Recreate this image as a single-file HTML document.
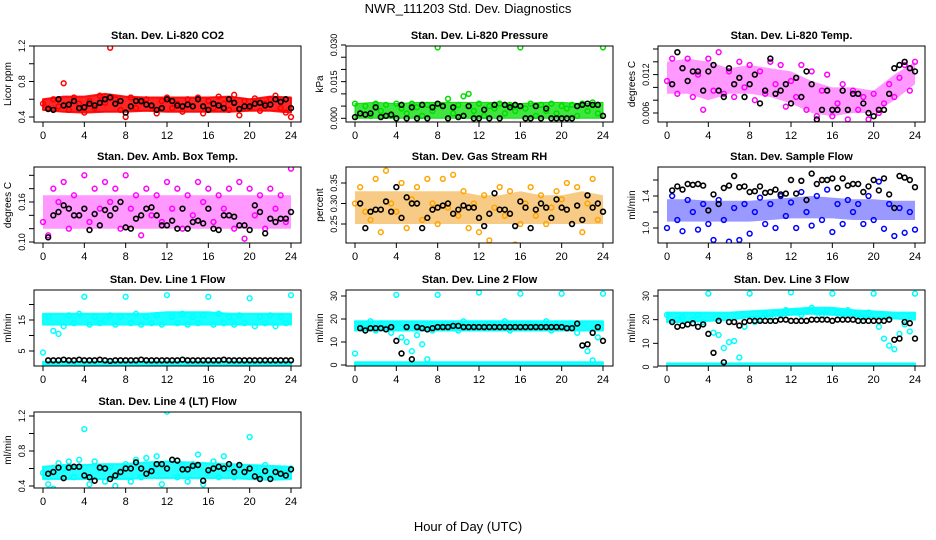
<!DOCTYPE html>
<html><head><meta charset="utf-8"><style>
body{margin:0;background:#fff}
svg{display:block;font-family:"Liberation Sans",sans-serif}
</style></head><body>
<svg id="chart" width="936" height="540" viewBox="0 0 936 540">
<rect width="936" height="540" fill="#fff"/>
<text x="468" y="13" text-anchor="middle" font-size="13">NWR_111203  Std. Dev. Diagnostics</text>
<text x="468" y="531" text-anchor="middle" font-size="13">Hour of Day (UTC)</text>
</svg>
<script>
const bandHours=[0,2,4,6,8,10,12,14,16,18,20,22,24];
const xTicks=[0,4,8,12,16,20,24];
// CO2
const co2Lo=[0.48,0.46,0.45,0.46,0.46,0.47,0.46,0.46,0.46,0.46,0.47,0.47,0.45];
const co2Hi=[0.60,0.63,0.63,0.66,0.63,0.62,0.62,0.62,0.62,0.63,0.60,0.63,0.62];
const co2Pts=[0.55,0.5,0.6,0.52,0.78,0.48,0.62,0.55,0.45,0.58,0.5,0.64,0.56,1.18,0.6,0.48,0.40,0.62,0.5,0.57,0.6,0.52,0.44,0.58,0.62,0.5,0.55,0.46,0.6,0.52,0.62,0.44,0.58,0.5,0.63,0.55,0.48,0.65,0.42,0.58,0.5,0.61,0.47,0.55,0.6,0.64,0.5,0.45,0.40];
const co2Black=[null,0.49,0.48,0.6,0.53,0.54,0.58,0.5,0.51,0.55,0.53,0.56,0.6,0.62,0.55,0.58,0.45,0.52,0.58,0.58,0.54,0.53,0.48,0.5,0.6,0.58,0.53,0.52,0.54,0.52,0.6,0.52,0.48,0.55,0.53,0.5,0.6,0.56,0.49,0.52,0.52,0.55,0.56,0.53,0.54,0.6,0.57,0.6,0.5];
// Pressure
const prLo=[0,0,0,0,0,0,0,0,0,0,0,0,0];
const prHi=[0.006,0.0065,0.006,0.0065,0.0065,0.0065,0.0065,0.0065,0.006,0.0065,0.0065,0.006,0.0065];
const prPts=[0.006,0.002,0.005,0.001,0.006,0.003,0.0055,0.001,0.006,0.004,0.002,0.006,0.0045,0.001,0.0055,0.003,0.029,0.005,0.008,0.002,0.0055,0.009,0.01,0.003,0.006,0.001,0.005,0.004,0.006,0.002,0.0055,0.003,0.029,0.004,0.006,0.001,0.0055,0.003,0.006,0.002,0.005,0.004,0.0055,0.001,0.006,0.003,0.0065,0.002,0.029];
const prBlack=[0.0005,0.002,0.0015,0.002,0.0045,0.0005,0.001,0.0015,0.0,0.0055,0.0,0.0045,0.0,0.0055,0.0,0.0045,0.006,0.005,0.0,0.0045,0.0005,0.001,0.005,0.0,0.0,0.0035,0.0,0.0055,0.0,0.0055,0.0045,0.0055,0.005,0.0,0.0,0.005,0.0,0.004,0.0,0.0,0.0,0.0,0.0,0.005,0.0055,0.006,0.0055,0.0055,0.001];
// Li-820 temp
const tLo=[0.009,0.009,0.008,0.009,0.009,0.0085,0.0075,0.006,0.0055,0.006,0.006,0.008,0.0105];
const tHi=[0.014,0.0145,0.014,0.013,0.0135,0.013,0.0125,0.011,0.010,0.010,0.0095,0.012,0.014];
const tPts=[0.011,0.0145,0.009,0.013,0.0145,0.0085,0.012,0.0065,0.0145,0.0095,0.0155,0.009,0.0125,0.0085,0.014,0.01,0.0135,0.008,0.0125,0.009,0.014,0.0105,0.0135,0.007,0.011,0.0085,0.0135,0.0065,0.0125,0.0055,0.0095,0.012,0.0055,0.0075,0.0105,0.005,0.0095,0.0065,0.0085,0.005,0.009,0.006,0.0075,0.0105,0.0085,0.0115,0.0135,0.0095,0.014];
const tBlack=[null,0.0105,0.0155,0.013,0.011,0.0125,0.0125,0.0095,0.0125,0.0135,0.0095,0.0085,0.013,0.0105,0.0115,0.0085,0.0105,0.012,0.0075,0.0095,0.0145,0.009,0.0095,0.0105,0.0075,0.0115,0.0085,0.0125,0.0105,0.005,0.0065,0.0095,0.0065,0.0065,0.0095,0.0065,0.009,0.009,0.0075,0.006,0.0055,0.0065,0.0065,0.009,0.013,0.0135,0.014,0.013,0.0125];
// Amb box temp
const aLo=[0.12,0.12,0.12,0.12,0.12,0.12,0.12,0.12,0.12,0.12,0.12,0.12,0.12];
const aHi=[0.17,0.17,0.17,0.17,0.17,0.17,0.17,0.17,0.17,0.17,0.17,0.17,0.17];
const aPts=[0.13,0.11,0.18,0.16,0.19,0.12,0.17,0.14,0.2,0.13,0.18,0.15,0.19,0.16,0.18,0.12,0.2,0.15,0.17,0.11,0.18,0.14,0.17,0.13,0.19,0.15,0.18,0.12,0.17,0.14,0.19,0.16,0.18,0.13,0.17,0.15,0.18,0.12,0.19,0.105,0.18,0.14,0.17,0.12,0.18,0.15,0.17,0.13,0.21];
const aBlack=[null,0.107,0.14,0.145,0.155,0.15,0.14,0.14,0.15,0.118,0.142,0.125,0.148,0.14,0.15,0.16,0.122,0.12,0.135,0.14,0.15,0.152,0.14,0.125,0.125,0.132,0.12,0.15,0.12,0.13,0.132,0.128,0.15,0.12,0.118,0.14,0.14,0.138,0.125,0.125,0.118,0.155,0.145,0.113,0.135,0.13,0.135,0.135,0.145];
// RH
const rhLo=[0.25,0.25,0.25,0.25,0.25,0.25,0.25,0.25,0.25,0.25,0.25,0.25,0.25];
const rhHi=[0.33,0.33,0.33,0.33,0.33,0.33,0.32,0.32,0.33,0.32,0.32,0.33,0.32];
const rhPts=[0.3,0.34,0.28,0.26,0.36,0.23,0.38,0.3,0.28,0.35,0.24,0.31,0.34,0.26,0.36,0.3,0.25,0.36,0.29,0.37,0.27,0.33,0.24,0.3,0.23,0.32,0.21,0.29,0.34,0.27,0.33,0.2,0.25,0.3,0.34,0.27,0.32,0.25,0.29,0.33,0.31,0.35,0.25,0.34,0.23,0.3,0.36,0.26,0.28];
const rhBlack=[null,0.3,0.24,0.28,0.285,0.285,0.305,0.28,0.34,0.265,0.315,0.3,0.3,0.24,0.265,0.285,0.29,0.295,0.3,0.275,0.285,0.295,0.29,0.29,0.265,0.245,0.275,0.325,0.285,0.285,0.275,0.245,0.305,0.29,0.24,0.285,0.3,0.29,0.265,0.31,0.29,0.285,0.25,0.295,0.26,0.32,0.29,0.3,0.28];
// Sample flow
const sfLo=[1.08,1.08,1.08,1.08,1.08,1.1,1.12,1.12,1.12,1.1,1.1,1.1,1.1];
const sfHi=[1.36,1.36,1.34,1.34,1.34,1.36,1.38,1.4,1.38,1.36,1.36,1.34,1.34];
const sfPts=[1.0,1.4,1.1,0.96,1.35,1.2,0.98,1.3,1.05,0.85,1.35,1.1,0.83,1.25,0.85,1.3,0.93,1.2,1.38,1.05,1.3,1.0,1.4,1.15,1.32,1.0,1.45,1.2,1.03,1.4,1.1,1.48,0.95,1.3,1.05,1.35,1.2,1.3,1.05,1.4,1.1,1.58,0.99,1.3,0.9,1.25,0.94,1.2,0.98];
const sfBlack=[null,1.47,1.52,1.48,1.55,1.54,1.55,1.53,1.22,1.42,1.3,1.5,1.53,1.65,1.51,1.52,1.45,1.46,1.52,1.44,1.45,1.48,1.42,1.43,1.6,1.43,1.59,1.35,1.68,1.55,1.6,1.6,1.62,1.5,1.62,1.53,1.55,1.55,1.45,1.52,1.6,1.47,1.62,1.42,1.25,1.65,1.63,1.6,1.51];
// Line 1
const l1Lo=[13.5,13.5,13.5,13.5,13.5,13.5,13.5,13.5,13.5,13.5,13.5,13.5,13.5];
const l1Hi=[17,17,17,17,17,17,17.5,17.5,17.5,17,17,17,17];
const l1LoB=[0.3,0.3,0.3,0.3,0.3,0.3,0.3,0.3,0.3,0.3,0.3,0.3,0.3];
const l1HiB=[1.5,1.5,1.5,1.5,1.5,1.5,1.5,1.5,1.5,1.5,1.5,1.5,1.5];
const l1Pts=[4.5,16,11.5,10.5,13,16.5,14,17,22.5,13.5,16,14,15,16.5,13.5,16,22.5,14,17,13.5,16,14,16.5,13.5,23,16,14,17,13.5,16,14,16.5,22.5,13.5,17,14,16,13.5,16.5,14,22,13,16,14,16.5,13,16,14,23];
const l1Black=[null,2,2,2,2.2,2,2,2.2,2,2,2,2.2,2,1.8,2,2,2,2,2,2.2,2,2,2,2,2,2,2,2.2,2,2,2,2,2,2,2,2.2,2,2,2,2,2,2,2,2,2,2,2,2,2];
// Line 2
const l2Lo=[15,15,15,15,15,15,15,15,15,15,15,15,15];
const l2Hi=[19,19,19,19,19,19,19,19,19,19,19,19,19];
const l2LoB=[0,0,0,0,0,0,0,0,0,0,0,0,0];
const l2HiB=[1.2,1.2,1.2,1.2,1.2,1.2,1.2,1.2,1.2,1.2,1.2,1.2,1.2];
const l2Pts=[5,17,16,19,15,18,16,14,30.5,12,10,6,13,9,2.5,15,30.5,17,16,18,15,19,16,17,31.5,16,18,17,16,19,15,17,31,16,18,17,16,19,15,17,31,16,18,14,8.5,6,2,12,31];
const l2Black=[null,16,15,16,16,16,15.5,16.5,10.5,5,16.5,2.5,16.5,16,15.5,16,16.5,16.5,16.5,17,17,16.5,16.5,16.5,16.5,16.5,16.5,16.5,16.5,16.5,16.5,16.5,16.5,16.5,16.5,16.5,16.5,16.5,16.5,16.5,16.5,16,16,18,8.5,9,14,16.5,10.5];
// Line 3
const l3Lo=[19,19,19.5,20,21,21.5,22,22.5,22,21.5,21,20.5,20];
const l3Hi=[23,23,23,23,23.5,24,24.5,25,25,24,23.5,23,23];
const l3LoB=[0,0,0,0,0,0,0,0,0,0,0,0,0];
const l3HiB=[1.5,1.5,1.5,1.5,1.5,1.5,1.5,1.5,1.5,1.5,1.5,1.5,1.5];
const l3Pts=[22,19,20,21,18,20,22,19,31,14.5,13.5,8,10.5,11,4,17,31,19,20,22,21,23,22,24,31.5,23,22,24,25,23,22,24,31,23,22,24,23,22,21,23,31,17,12,9,7.5,14,18,15,31];
const l3Black=[null,19,17,17.5,18,18.5,17,18,14,6,19.5,2,19,19,17.5,19,19.5,19.5,19.5,19.5,19.5,19.5,20,20,19.5,19.5,19.5,19.5,20,20,20,20,19.5,20,20,20,20,19.5,19.5,19.5,19.5,19.5,19.5,20,11.5,12,19,18.5,12];
// Line 4
const l4Lo=[0.48,0.48,0.48,0.48,0.48,0.49,0.49,0.49,0.49,0.49,0.48,0.47,0.48];
const l4Hi=[0.62,0.64,0.64,0.65,0.65,0.67,0.68,0.67,0.66,0.65,0.64,0.63,0.62];
const l4Pts=[0.55,0.42,0.37,0.66,0.6,0.68,0.5,0.7,1.05,0.42,0.68,0.6,0.45,0.62,0.4,0.55,0.65,0.45,0.7,0.5,0.72,0.6,0.74,0.42,1.25,0.7,0.5,0.63,0.45,0.65,0.76,0.42,0.55,0.68,0.5,0.74,0.6,0.5,0.64,0.55,0.96,0.6,0.52,0.64,0.5,0.6,0.58,0.55,0.6];
const l4Black=[null,0.54,0.56,0.61,0.49,0.61,0.62,0.62,0.52,0.5,0.46,0.61,0.6,0.48,0.52,0.56,0.6,0.6,0.67,0.6,0.54,0.57,0.65,0.65,0.6,0.7,0.69,0.59,0.59,0.63,0.64,0.46,0.58,0.6,0.62,0.6,0.65,0.56,0.64,0.56,0.6,0.51,0.48,0.57,0.48,0.56,0.54,0.52,0.59];

const panels=[
 {id:'co2',col:0,row:0,title:'Stan. Dev. Li-820 CO2',ylab:'Licor ppm',cal:[0.4,117,1.2,46],ticks:[0.4,0.6,0.8,1.0,1.2],labels:['0.4','','0.8','','1.2'],color:'#ff0000',fill:'#ff0000',op:0.85,sw:2,bands:[[co2Lo,co2Hi]],pts:co2Pts,blk:co2Black},
 {id:'pressure',col:1,row:0,title:'Stan. Dev. Li-820 Pressure',ylab:'kPa',cal:[0,118.3,0.030,45],ticks:[0,0.005,0.010,0.015,0.020,0.025,0.030],labels:['0.000','','','0.015','','','0.030'],color:'#00dd00',fill:'#00dd00',op:0.75,sw:1,bands:[[prLo,prHi]],pts:prPts,blk:prBlack},
 {id:'licor-temp',col:2,row:0,title:'Stan. Dev. Li-820 Temp.',ylab:'degrees C',cal:[0.006,113,0.016,49],ticks:[0.006,0.008,0.010,0.012,0.014,0.016],labels:['0.006','','','0.012','',''],color:'#ff00ff',fill:'#ff00ff',op:0.4,sw:0,bands:[[tLo,tHi]],pts:tPts,blk:tBlack},
 {id:'amb-temp',col:0,row:1,title:'Stan. Dev. Amb. Box Temp.',ylab:'degrees C',cal:[0.10,242,0.16,202],ticks:[0.10,0.12,0.14,0.16,0.18,0.20],labels:['0.10','','','0.16','',''],color:'#ff00ff',fill:'#ff00ff',op:0.4,sw:0,bands:[[aLo,aHi]],pts:aPts,blk:aBlack},
 {id:'rh',col:1,row:1,title:'Stan. Dev. Gas Stream RH',ylab:'percent',cal:[0.25,224,0.35,183],ticks:[0.25,0.30,0.35],labels:['0.25','0.30','0.35'],color:'#ffa500',fill:'#f0a020',op:0.55,sw:0,bands:[[rhLo,rhHi]],pts:rhPts,blk:rhBlack},
 {id:'sample-flow',col:2,row:1,title:'Stan. Dev. Sample Flow',ylab:'ml/min',cal:[1.0,228,1.4,196],ticks:[1.0,1.2,1.4,1.6],labels:['1.0','','1.4',''],color:'#0000ff',fill:'#0000ff',op:0.4,sw:0,bands:[[sfLo,sfHi]],pts:sfPts,blk:sfBlack},
 {id:'line1-flow',col:0,row:2,title:'Stan. Dev. Line 1 Flow',ylab:'ml/min',cal:[5,351,15,320],ticks:[5,10,15,20],labels:['5','','15',''],color:'#00ffff',fill:'#00ffff',op:0.9,sw:2,bands:[[l1Lo,l1Hi],[l1LoB,l1HiB]],pts:l1Pts,blk:l1Black},
 {id:'line2-flow',col:1,row:2,title:'Stan. Dev. Line 2 Flow',ylab:'ml/min',cal:[0,365,30,296],ticks:[0,10,20,30],labels:['0','10','20','30'],color:'#00ffff',fill:'#00ffff',op:0.9,sw:2,bands:[[l2Lo,l2Hi],[l2LoB,l2HiB]],pts:l2Pts,blk:l2Black},
 {id:'line3-flow',col:2,row:2,title:'Stan. Dev. Line 3 Flow',ylab:'ml/min',cal:[0,367,30,296],ticks:[0,10,20,30],labels:['0','10','20','30'],color:'#00ffff',fill:'#00ffff',op:0.9,sw:2,bands:[[l3Lo,l3Hi],[l3LoB,l3HiB]],pts:l3Pts,blk:l3Black},
 {id:'line4-flow',col:0,row:3,title:'Stan. Dev. Line 4 (LT) Flow',ylab:'ml/min',cal:[0.4,486,1.2,416],ticks:[0.4,0.6,0.8,1.0,1.2],labels:['0.4','','0.8','','1.2'],color:'#00ffff',fill:'#00ffff',op:0.85,sw:2,bands:[[l4Lo,l4Hi]],pts:l4Pts,blk:l4Black}
];
const NS='http://www.w3.org/2000/svg';
const svg=document.getElementById('chart');
function mk(tag,attrs,parent){const e=document.createElementNS(NS,tag);for(const k in attrs)e.setAttribute(k,attrs[k]);(parent||svg).appendChild(e);return e;}
panels.forEach(p=>{
 const L=34+312*p.col, R=301+312*p.col, T=[46,167,290,412][p.row], B=T+76;
 const xS=h=>L+9+h*248/24;
 const [v0,p0,v1,p1]=p.cal;
 const yS=v=>p0+(v-v0)*(p1-p0)/(v1-v0);
 const g=mk('g',{});
 
 
 const clip=mk('clipPath',{id:'clip-'+p.id},g);
 mk('rect',{x:L,y:T,width:R-L,height:B-T},clip);
 const plot=mk('g',{'clip-path':'url(#clip-'+p.id+')'},g);
 p.bands.forEach(bd=>{
  const lo=bd[0],hi=bd[1];
  let d='';
  bandHours.forEach((h,i)=>{d+=(i?'L':'M')+xS(h).toFixed(1)+','+yS(hi[i]).toFixed(1);});
  for(let i=bandHours.length-1;i>=0;i--)d+='L'+xS(bandHours[i]).toFixed(1)+','+yS(lo[i]).toFixed(1);
  const band=mk('path',{d:d+'Z',fill:p.fill,'fill-opacity':p.op,stroke:p.color,'stroke-width':p.sw,'stroke-opacity':p.sw?0.9:0,'stroke-linejoin':'round'},plot);
  
  
 });
 p.pts.forEach((v,i)=>{
  if(v==null)return;
  const c=mk('circle',{cx:xS(i*0.5),cy:yS(v),r:2.4,fill:'none',stroke:p.color,'stroke-width':1.5},plot);
  
  
 });
 p.blk.forEach((v,i)=>{
  if(v==null)return;
  const c=mk('circle',{cx:xS(i*0.5),cy:yS(v),r:2.4,fill:'none',stroke:'#000','stroke-width':1.6},plot);
  
  
 });
 const box=mk('rect',{x:L,y:T,width:R-L,height:B-T,fill:'none',stroke:'#000','stroke-width':1},g);
 
 
 const t=mk('text',{x:(L+R)/2,y:T-7,'text-anchor':'middle','font-size':11,'font-weight':'bold'},g);
 t.textContent=p.title;
 
 
 const yl=mk('text',{x:L-23,y:(T+B)/2,'text-anchor':'middle','font-size':10,transform:'rotate(-90 '+(L-23)+' '+(T+B)/2+')'},g);
 yl.textContent=p.ylab;
 
 
 p.ticks.forEach((v,i)=>{
  const y=yS(v);
  mk('line',{x1:L-5,x2:L,y1:y,y2:y,stroke:'#000'},g);
  if(p.labels[i]){
   const tl=mk('text',{x:L-9,y:y,'text-anchor':'middle','font-size':9,transform:'rotate(-90 '+(L-9)+' '+y+')'},g);
   tl.textContent=p.labels[i];
   
   
  }
 });
 xTicks.forEach(h=>{
  const x=xS(h);
  mk('line',{x1:x,x2:x,y1:B,y2:B+5,stroke:'#000'},g);
  const tl=mk('text',{x:x,y:B+17,'text-anchor':'middle','font-size':11},g);
  tl.textContent=String(h);
  
  
 });
});
</script>
</body></html>
